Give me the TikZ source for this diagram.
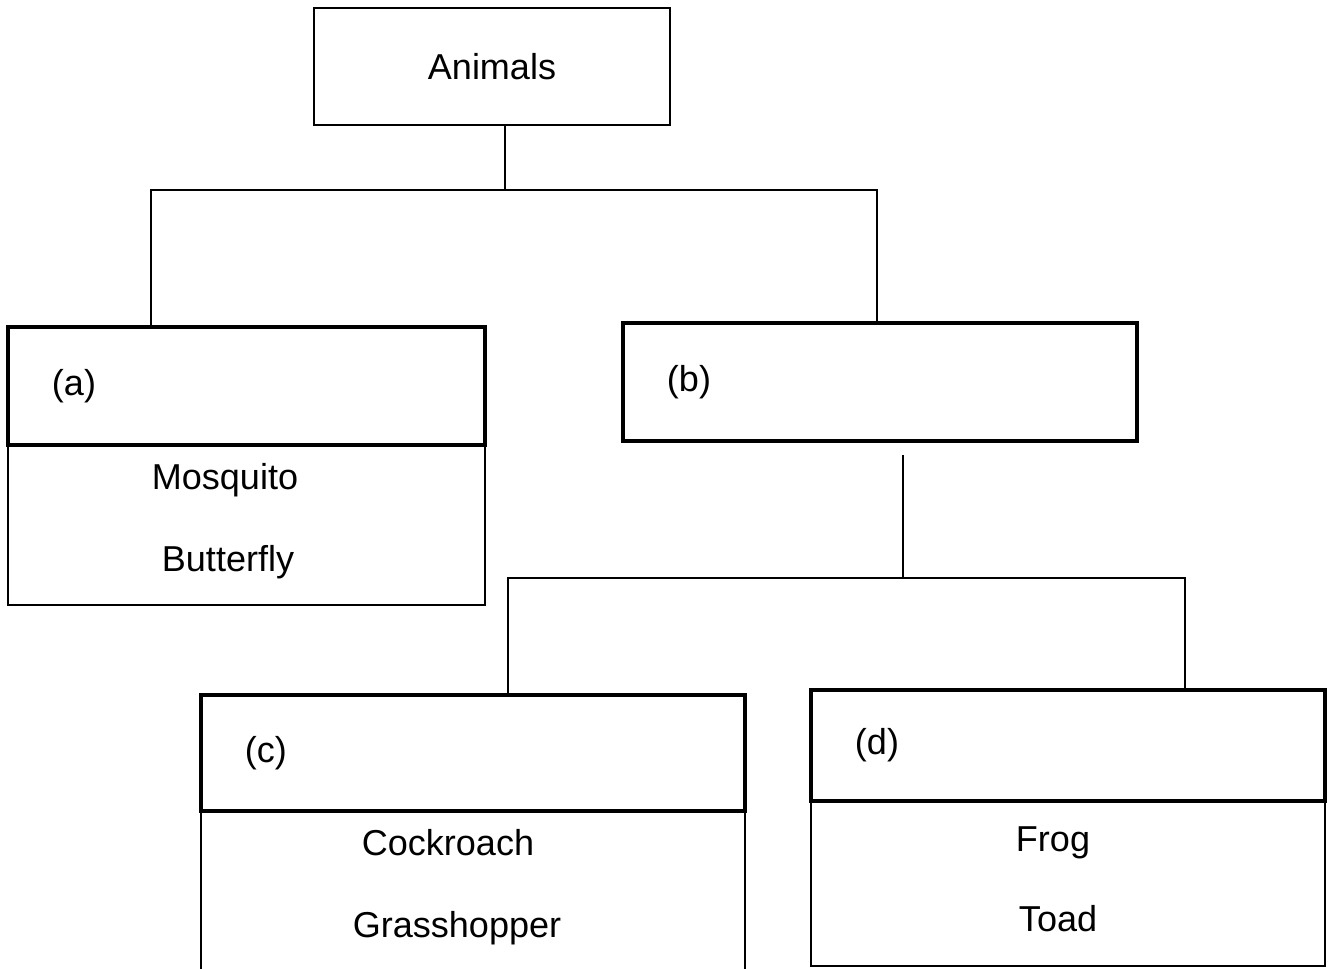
\documentclass[tikz,border=0pt]{standalone}
\usepackage{fontspec}
\setmainfont{Liberation Sans}
\usetikzlibrary{positioning}

\begin{document}
\begin{tikzpicture}[
    x=0.02cm, y=-0.02cm,
    font=\fontsize{20.5}{24}\selectfont,
    topbox/.style={draw, line width=0.8pt, minimum width=7.12cm, minimum height=2.34cm, outer sep=0pt},
    head/.style 2 args={draw, line width=2.3pt, anchor=north west, align=left, inner xsep=0.88cm, inner ysep=0pt,
      text width=#1, minimum height=#2, outer sep=0pt},
    list/.style 2 args={draw, line width=0.8pt, minimum width=#1, minimum height=#2, outer sep=0pt},
    animal/.style={inner sep=0pt, anchor=base},
    link/.style={line width=0.8pt}
  ]
    \useasboundingbox (0,0) rectangle (1330,969);
    \node[topbox] (animals) at (492,66.5) {Animals};
    \node[head={7.78cm}{2.36cm}] (ha) at (8,327) {(a)};
    \node[head={8.52cm}{2.36cm}] (hb) at (623,323) {(b)};
    \node[head={9.12cm}{2.32cm}] (hc) at (201,695) {(c)};
    \node[head={8.52cm}{2.22cm}] (hd) at (811,690) {(d)};
    \node[list={9.54cm}{3.2cm}, below=0pt of ha.south west, anchor=north west] (la) {};
    \node[list={10.88cm}{3.2cm}, below=0pt of hc.south west, anchor=north west] (lc) {};
    \node[list={10.28cm}{3.3cm}, below=0pt of hd.south west, anchor=north west] (ld) {};
    % names in the lists
    \node[animal] (mosquito) at (225,490) {Mosquito};
    \node[animal] (butterfly) at (228,572) {Butterfly};
    \node[animal] (cockroach) at (448,855) {Cockroach};
    \node[animal] (grasshopper) at (457,937) {Grasshopper};
    \node[animal] (frog) at (1053,851) {Frog};
    \node[animal] (toad) at (1058,931) {Toad};
    % branches
    \coordinate (s1) at (505,190);
    \coordinate (s1l) at (151,190);
    \coordinate (s1r) at (877,190);
    \draw[link] (animals.south -| s1) -- (s1);
    \draw[link] (s1l |- ha.north) -- (s1l) -- (s1r) -- (s1r |- hb.north);
    \coordinate (s2top) at (903,455);
    \coordinate (s2) at (903,578);
    \coordinate (s2l) at (508,578);
    \coordinate (s2r) at (1185,578);
    \draw[link] (s2top) -- (s2);
    \draw[link] (s2l |- hc.north) -- (s2l) -- (s2r) -- (s2r |- hd.north);
\end{tikzpicture}
\end{document}
